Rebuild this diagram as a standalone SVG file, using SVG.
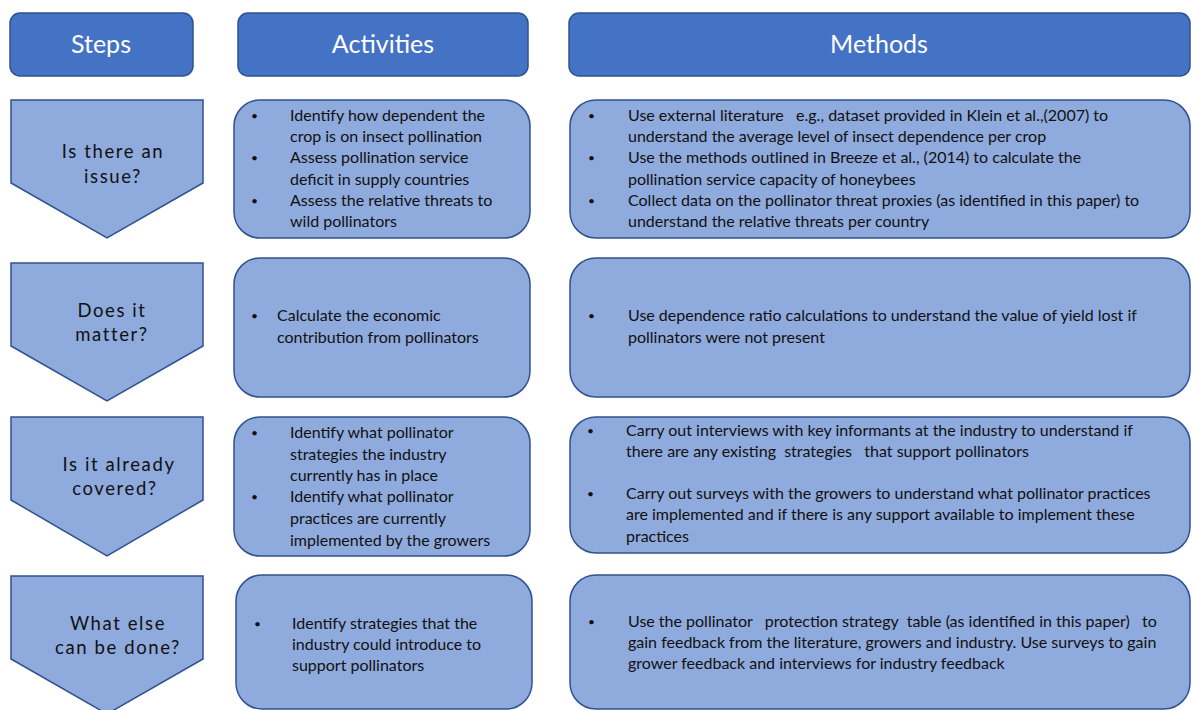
<svg xmlns="http://www.w3.org/2000/svg" width="1193" height="710" viewBox="0 0 1193 710">
  <style>
    .hdr { fill: #4472C4; stroke: #2F528F; stroke-width: 1.5; }
    .hdr-t { fill: #ffffff; font-family: Lato, "Liberation Sans", sans-serif; font-size: 25px; text-anchor: middle; }
    .step { fill: #8FAADC; stroke: #2F528F; stroke-width: 1.5; }
    .step-t { fill: #111111; font-family: Lato, "Liberation Sans", sans-serif; font-size: 18.5px; letter-spacing: 1.6px; text-anchor: middle; }
    .box { fill: #8FAADC; stroke: #2F528F; stroke-width: 1.5; }
    .t { fill: #111111; font-family: Lato, "Liberation Sans", sans-serif; font-size: 16px; }
    .b { font-size: 12px; }
  </style>

  <!-- column headers -->
  <g id="hdr-steps">
    <rect class="hdr" x="10" y="13" width="183" height="63" rx="10"/>
    <text class="hdr-t" x="101" y="53">Steps</text>
  </g>
  <g id="hdr-activities">
    <rect class="hdr" x="238" y="13" width="290" height="63" rx="10"/>
    <text class="hdr-t" x="383" y="53">Activities</text>
  </g>
  <g id="hdr-methods">
    <rect class="hdr" x="569" y="13" width="621" height="63" rx="10"/>
    <text class="hdr-t" x="879" y="53">Methods</text>
  </g>

  <!-- step chevrons -->
  <g id="step-1">
    <polygon class="step" points="11,100 203,100 203,183 107,238 11,183"/>
    <text class="step-t" x="113" y="158">Is there an</text>
    <text class="step-t" x="113" y="183">issue?</text>
  </g>
  <g id="step-2">
    <polygon class="step" points="11,263 203,263 203,346 107,401 11,346"/>
    <text class="step-t" x="112" y="317">Does it</text>
    <text class="step-t" x="112" y="341">matter?</text>
  </g>
  <g id="step-3">
    <polygon class="step" points="11,417 203,417 203,500 107,556 11,500"/>
    <text class="step-t" x="119" y="471">Is it already</text>
    <text class="step-t" x="115" y="495">covered?</text>
  </g>
  <g id="step-4">
    <polygon class="step" points="11,576 203,576 203,659 107,714 11,659"/>
    <text class="step-t" x="118" y="630">What else</text>
    <text class="step-t" x="118" y="654">can be done?</text>
  </g>

  <!-- activities -->
  <g id="act-1">
    <rect class="box" x="234" y="100" width="296" height="138" rx="26"/>
    <g class="t">
      <text class="b" x="251" y="120">•</text>
      <text x="290" y="121">Identify how dependent the</text>
      <text x="290" y="142">crop is on insect pollination</text>
      <text class="b" x="251" y="162">•</text>
      <text x="290" y="163">Assess pollination service</text>
      <text x="290" y="185">deficit in supply countries</text>
      <text class="b" x="251" y="205">•</text>
      <text x="290" y="206">Assess the relative threats to</text>
      <text x="290" y="227">wild pollinators</text>
    </g>
  </g>
  <g id="act-2">
    <rect class="box" x="234" y="258" width="296" height="139" rx="26"/>
    <g class="t">
      <text class="b" x="251" y="320">•</text>
      <text x="277" y="321">Calculate the economic</text>
      <text x="277" y="343">contribution from pollinators</text>
    </g>
  </g>
  <g id="act-3">
    <rect class="box" x="234" y="417" width="296" height="139" rx="26"/>
    <g class="t">
      <text class="b" x="251" y="437">•</text>
      <text x="290" y="438">Identify what pollinator</text>
      <text x="290" y="460">strategies the industry</text>
      <text x="290" y="481">currently has in place</text>
      <text class="b" x="251" y="501">•</text>
      <text x="290" y="502">Identify what pollinator</text>
      <text x="290" y="524">practices are currently</text>
      <text x="290" y="546">implemented by the growers</text>
    </g>
  </g>
  <g id="act-4">
    <rect class="box" x="236" y="575" width="296" height="134" rx="26"/>
    <g class="t">
      <text class="b" x="254" y="628">•</text>
      <text x="292" y="629">Identify strategies that the</text>
      <text x="292" y="650">industry could introduce to</text>
      <text x="292" y="671">support pollinators</text>
    </g>
  </g>

  <!-- methods -->
  <g id="meth-1">
    <rect class="box" x="570" y="100" width="620" height="138" rx="26"/>
    <g class="t">
      <text class="b" x="588" y="120">•</text>
      <text x="628" y="121" xml:space="preserve">Use external literature   e.g., dataset provided in Klein et al.,(2007) to</text>
      <text x="628" y="142">understand the average level of insect dependence per crop</text>
      <text class="b" x="588" y="162">•</text>
      <text x="628" y="163">Use the methods outlined in Breeze et al., (2014) to calculate the</text>
      <text x="628" y="185">pollination service capacity of honeybees</text>
      <text class="b" x="588" y="205">•</text>
      <text x="628" y="206">Collect data on the pollinator threat proxies (as identified in this paper) to</text>
      <text x="628" y="227">understand the relative threats per country</text>
    </g>
  </g>
  <g id="meth-2">
    <rect class="box" x="570" y="258" width="620" height="139" rx="26"/>
    <g class="t">
      <text class="b" x="588" y="320">•</text>
      <text x="628" y="321">Use dependence ratio calculations to understand the value of yield lost if</text>
      <text x="628" y="343">pollinators were not present</text>
    </g>
  </g>
  <g id="meth-3">
    <rect class="box" x="570" y="417" width="620" height="136" rx="26"/>
    <g class="t">
      <text class="b" x="587" y="435">•</text>
      <text x="626" y="436" xml:space="preserve">Carry out interviews with key informants at the industry to understand if</text>
      <text x="626" y="457" xml:space="preserve">there are any existing  strategies   that support pollinators</text>
      <text class="b" x="587" y="498">•</text>
      <text x="626" y="499">Carry out surveys with the growers to understand what pollinator practices</text>
      <text x="626" y="520">are implemented and if there is any support available to implement these</text>
      <text x="626" y="542">practices</text>
    </g>
  </g>
  <g id="meth-4">
    <rect class="box" x="570" y="575" width="620" height="134" rx="26"/>
    <g class="t">
      <text class="b" x="588" y="626">•</text>
      <text x="628" y="627" xml:space="preserve">Use the pollinator   protection strategy  table (as identified in this paper)   to</text>
      <text x="628" y="648">gain feedback from the literature, growers and industry. Use surveys to gain</text>
      <text x="628" y="669">grower feedback and interviews for industry feedback</text>
    </g>
  </g>

  <!-- no connectors between nodes -->
  <g id="connectors"/>
</svg>
